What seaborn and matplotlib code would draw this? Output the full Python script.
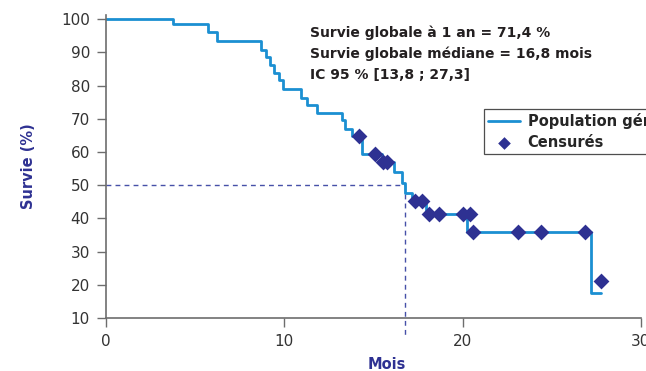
import matplotlib
matplotlib.use("Agg")
import matplotlib.pyplot as plt
import numpy as np
import pandas as pd
import seaborn as sns

# courbe de survie (Kaplan-Meier)
temps = [0, 3.75, 5.7, 6.25, 8.7, 8.97, 9.2, 9.45, 9.7, 9.93, 10.95, 11.3, 11.85,
         13.24, 13.41, 13.8, 14.36, 15.47, 16.15, 16.6, 16.76, 17.15, 17.93,
         20.24, 27.19, 27.74]
survie = [100, 98.5, 96.2, 93.3, 90.8, 88.6, 86.2, 83.9, 81.6, 79.1, 76.4, 74.0, 71.7,
          69.5, 67.0, 64.7, 59.5, 57.1, 53.9, 50.7, 47.7, 45.3, 41.2,
          35.8, 17.4, 17.4]

# patients censurés
temps_cens = [14.19, 15.08, 15.56, 15.78, 17.36, 17.73, 18.1, 18.7, 20.0, 20.43,
              20.56, 23.09, 24.4, 26.85, 27.74]
survie_cens = [64.7, 59.5, 57.1, 57.1, 45.3, 45.3, 41.2, 41.2, 41.2, 41.2,
               35.8, 35.8, 35.8, 35.8, 21.2]

mediane = 16.8
x_ticks = [0, 10, 20, 30]
y_ticks = [10, 20, 30, 40, 50, 60, 70, 80, 90, 100]

texte = ("Survie globale à 1 an = 71,4 %\n"
         "Survie globale médiane = 16,8 mois\n"
         "IC 95 % [13,8 ; 27,3]")

bleu_clair = "#1b8fd2"
bleu_fonce = "#2e3192"

sns.set_style("white")
plt.rcParams["font.family"] = ["DejaVu Sans"]

df = pd.DataFrame({"temps": temps, "survie": survie})
df_cens = pd.DataFrame({"temps": temps_cens, "survie": survie_cens})

fig = plt.figure(figsize=(6.46, 3.71), dpi=100)
ax = fig.add_axes([0.164, 0.143, 0.828, 0.817])

# lignes de la médiane
ax.plot([0, mediane], [50, 50], color="#4650a8", ls=(0, (3.5, 3)), lw=1)
ax.plot([mediane, mediane], [50, 5], color="#4650a8", ls=(0, (3.5, 3)), lw=1, clip_on=False)

sns.lineplot(data=df, x="temps", y="survie", ax=ax, drawstyle="steps-post",
             color=bleu_clair, lw=2, estimator=None, label="Population générale")
sns.scatterplot(data=df_cens, x="temps", y="survie", ax=ax, marker="D", s=65,
                color=bleu_fonce, edgecolor=bleu_fonce, linewidth=0, zorder=5,
                label="Censurés")

ax.set_xlim(0, 30)
ax.set_ylim(10, 101.3)
ax.set_xticks(x_ticks)
ax.set_yticks(y_ticks)
ax.tick_params(axis="both", direction="out", length=6.5, width=1, color="#6d6d6d",
               labelsize=11, labelcolor="#333333", pad=5)
ax.tick_params(axis="x", bottom=True)
ax.tick_params(axis="y", left=True)

for s in ["top", "right"]:
    ax.spines[s].set_visible(False)
for s in ["left", "bottom"]:
    ax.spines[s].set_color("#6d6d6d")
    ax.spines[s].set_linewidth(1.2)

ax.set_xlabel("Mois", fontsize=10.5, fontweight="bold", color=bleu_fonce, labelpad=6)
ax.xaxis.set_label_coords(0.525, -0.13)
ax.set_ylabel("Survie (%)", fontsize=10.5, fontweight="bold", color=bleu_fonce, labelpad=18)

ax.text(11.45, 98.2, texte, fontsize=10, fontweight="bold", color="#231f20",
        va="top", ha="left", linespacing=1.6)

leg = ax.legend(loc="upper left", bbox_to_anchor=(0.693, 0.713), frameon=True,
                fancybox=False, edgecolor="#222222", handlelength=2.2,
                prop={"weight": "bold", "size": 10.5}, borderpad=0.3,
                labelspacing=0.35, handletextpad=0.5, markerscale=0.8)
leg.get_frame().set_linewidth(0.9)

fig.savefig("out.png", dpi=100)
